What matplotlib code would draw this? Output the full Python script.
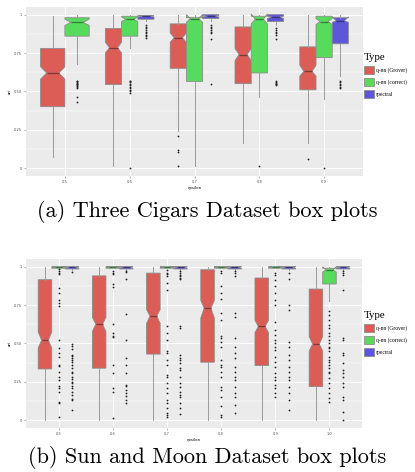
import matplotlib
matplotlib.use("Agg")
import matplotlib.pyplot as plt
from matplotlib.patches import Patch

# series names and colours
TYPES = ["q-nn (Grover)", "q-nn (correct)", "spectral"]
COLORS = ["#DB5D56", "#56DB5C", "#5D56DB"]
MED_COLORS = ["#7a3a36", "#357a39", "#3a367a"]

# ---- (a) Three Cigars
A_TICKS = ["0.5", "0.6", "0.7", "0.8", "0.9"]

a_red_q1 = [0.40, 0.545, 0.65, 0.55, 0.51]
a_red_med = [0.62, 0.785, 0.85, 0.74, 0.63]
a_red_q3 = [0.78, 0.91, 0.94, 0.92, 0.79]
a_red_cilo = [0.58, 0.75, 0.82, 0.70, 0.60]
a_red_cihi = [0.66, 0.82, 0.88, 0.78, 0.67]
a_red_lo = [0.07, 0.01, 0.24, 0.16, 0.16]
a_red_hi = [0.99, 1.0, 1.0, 1.0, 1.0]
a_red_fl = [[], [], [0.21, 0.115, 0.105, 0.01], [], [0.06]]

a_grn_q1 = [0.86, 0.86, 0.565, 0.62, 0.72]
a_grn_med = [0.95, 0.97, 0.975, 0.97, 0.955]
a_grn_q3 = [0.98, 0.99, 0.98, 0.99, 0.99]
a_grn_cilo = [0.93, 0.955, 0.95, 0.94, 0.935]
a_grn_cihi = [0.97, 0.985, 1.0, 1.005, 0.975]
a_grn_lo = [0.68, 0.78, 0.01, 0.46, 0.45]
a_grn_hi = [1.0, 1.0, 1.0, 1.0, 1.0]
a_grn_fl = [[0.57, 0.565, 0.56, 0.555, 0.55, 0.545, 0.54, 0.535, 0.53, 0.52, 0.46, 0.43],
            [0.57, 0.565, 0.56, 0.55, 0.54, 0.53, 0.52, 0.51, 0.50, 0.49, 0.0],
            [], [0.01], [0.0]]

# spectral has no box at 0.5
a_blu_idx = [1, 2, 3, 4]
a_blu_q1 = [0.97, 0.975, 0.955, 0.81]
a_blu_med = [0.99, 0.99, 0.985, 0.96]
a_blu_q3 = [0.995, 1.0, 1.0, 0.98]
a_blu_cilo = [0.985, 0.985, 0.975, 0.95]
a_blu_cihi = [0.995, 0.995, 0.99, 0.985]
a_blu_lo = [0.96, 0.96, 0.93, 0.60]
a_blu_hi = [1.0, 1.0, 1.0, 1.0]
a_blu_fl = [[0.93, 0.92, 0.91, 0.90, 0.89, 0.88, 0.87, 0.86, 0.85],
            [0.93, 0.92, 0.91, 0.90, 0.89, 0.88, 0.84, 0.55],
            [0.91, 0.90, 0.89, 0.88, 0.87, 0.84, 0.57, 0.56, 0.555, 0.55, 0.545, 0.54],
            [0.57, 0.56, 0.55, 0.54, 0.53, 0.52]]

# ---- (b) Sun and Moon
B_TICKS = ["0.5", "0.6", "0.7", "0.8", "0.9", "1.0"]

b_red_q1 = [0.333, 0.338, 0.43, 0.377, 0.355, 0.218]
b_red_med = [0.52, 0.625, 0.678, 0.73, 0.61, 0.495]
b_red_q3 = [0.915, 0.94, 0.958, 0.98, 0.926, 0.854]
b_red_cilo = [0.47, 0.577, 0.63, 0.665, 0.57, 0.45]
b_red_cihi = [0.575, 0.67, 0.72, 0.78, 0.65, 0.545]
b_red_lo = [0.0, 0.0, 0.0, 0.0, 0.0, 0.0]
b_red_hi = [1.0, 1.0, 1.0, 1.0, 1.0, 1.0]

b_grn_q1 = [0.99, 0.99, 0.99, 0.99, 0.99, 0.887]
b_grn_med = [0.997, 0.997, 0.997, 0.997, 0.997, 0.98]
b_grn_q3 = [1.0, 1.0, 1.0, 1.0, 1.0, 0.99]
b_grn_cilo = [0.995, 0.995, 0.995, 0.995, 0.995, 0.965]
b_grn_cihi = [1.0, 1.0, 1.0, 1.0, 1.0, 0.998]
b_grn_lo = [0.99, 0.99, 0.99, 0.99, 0.99, 0.778]
b_grn_hi = [1.0, 1.0, 1.0, 1.0, 1.0, 1.0]
b_grn_fl = [
    [0.985, 0.97, 0.96, 0.95, 0.86, 0.83, 0.78, 0.76, 0.745, 0.52, 0.47, 0.44, 0.41, 0.36,
     0.35, 0.31, 0.28, 0.26, 0.225, 0.21, 0.185, 0.12, 0.11, 0.02],
    [0.975, 0.96, 0.95, 0.89, 0.87, 0.625, 0.57, 0.545, 0.54, 0.36, 0.305, 0.21, 0.18, 0.015],
    [0.98, 0.96, 0.952, 0.941, 0.893, 0.85, 0.61, 0.566, 0.523, 0.447, 0.436, 0.392, 0.36,
     0.294, 0.283, 0.24, 0.207, 0.174, 0.131, 0.109, 0.076, 0.044, 0.033, 0.022],
    [0.97, 0.96, 0.872, 0.828, 0.789, 0.697, 0.654, 0.545, 0.534, 0.512, 0.479, 0.392, 0.36,
     0.349, 0.316, 0.283, 0.218, 0.196, 0.153, 0.094, 0.033, 0.022],
    [0.96, 0.948, 0.915, 0.872, 0.828, 0.784, 0.752, 0.636, 0.588, 0.556, 0.523, 0.501, 0.479,
     0.458, 0.414, 0.381, 0.349, 0.305, 0.283, 0.262, 0.229, 0.207, 0.174, 0.153],
    [0.708, 0.686, 0.654, 0.621, 0.599, 0.566, 0.545, 0.523, 0.501, 0.479, 0.468, 0.447, 0.414,
     0.392, 0.381, 0.36, 0.338, 0.316, 0.305, 0.272, 0.24, 0.207, 0.174, 0.142, 0.12],
]

b_blu_q1 = [0.985, 0.985, 0.985, 0.985, 0.985, 0.985]
b_blu_med = [0.995, 0.995, 0.995, 0.995, 0.995, 0.995]
b_blu_q3 = [1.0, 1.0, 1.0, 1.0, 1.0, 1.0]
b_blu_cilo = [0.99, 0.99, 0.99, 0.99, 0.99, 0.99]
b_blu_cihi = [1.0, 1.0, 1.0, 1.0, 1.0, 1.0]
b_blu_lo = [0.98, 0.98, 0.98, 0.98, 0.98, 0.98]
b_blu_hi = [1.0, 1.0, 1.0, 1.0, 1.0, 1.0]
b_blu_fl = [
    [0.965, 0.495, 0.48, 0.46, 0.425, 0.415, 0.405, 0.39, 0.38, 0.36, 0.34, 0.315, 0.305,
     0.28, 0.265, 0.25, 0.24, 0.225, 0.21, 0.185, 0.165, 0.14, 0.13, 0.065],
    [0.975, 0.965, 0.92, 0.69, 0.52, 0.405, 0.36, 0.305, 0.23, 0.22, 0.195, 0.175, 0.155,
     0.13, 0.11],
    [0.97, 0.96, 0.948, 0.937, 0.926, 0.92, 0.61, 0.6, 0.425, 0.403, 0.392, 0.37, 0.338,
     0.327, 0.283, 0.24, 0.218, 0.185, 0.163, 0.153, 0.109, 0.076, 0.04],
    [0.97, 0.96, 0.937, 0.697, 0.675, 0.534, 0.479, 0.436, 0.403, 0.349, 0.316, 0.283, 0.262,
     0.218, 0.174, 0.153, 0.098, 0.044],
    [0.96, 0.92, 0.752, 0.719, 0.512, 0.479, 0.425, 0.392, 0.349, 0.316, 0.283, 0.262, 0.218,
     0.174, 0.131, 0.065],
    [0.97, 0.96, 0.948, 0.85, 0.534, 0.523, 0.436, 0.425, 0.37, 0.327, 0.305, 0.283, 0.24,
     0.218, 0.153, 0.131, 0.054, 0.0],
]


def make_stats(q1, med, q3, cilo, cihi, lo, hi, fl=None):
    out = []
    for i in range(len(q1)):
        out.append(dict(q1=q1[i], med=med[i], q3=q3[i], cilo=cilo[i], cihi=cihi[i],
                        whislo=lo[i], whishi=hi[i], fliers=fl[i] if fl else []))
    return out


def draw_series(ax, stats, pos, width, k):
    ax.bxp(stats, positions=pos, widths=width, shownotches=True, showcaps=False,
           patch_artist=True, manage_ticks=False,
           boxprops=dict(facecolor=COLORS[k], edgecolor="#8c8c8c", linewidth=0.6),
           whiskerprops=dict(color="#9a9a9a", linewidth=0.7),
           medianprops=dict(color=MED_COLORS[k], linewidth=0.9),
           flierprops=dict(marker="o", markersize=1.3, markerfacecolor="#222222",
                           markeredgewidth=0, linestyle="none"))


def style_axes(ax, ticks):
    n = len(ticks)
    ax.set_facecolor("#EBEBEB")
    ax.set_xlim(0.4, n + 0.6)
    ax.set_ylim(-0.052, 1.05)
    ax.set_yticks([0, 0.25, 0.5, 0.75, 1])
    ax.set_yticklabels(["0", "0.25", "0.50", "0.75", "1"])
    ax.set_yticks([0.125, 0.375, 0.625, 0.875], minor=True)
    ax.set_xticks(range(1, n + 1))
    ax.set_xticklabels(ticks)
    ax.grid(which="major", color="white", linewidth=0.7)
    ax.grid(which="minor", axis="y", color="white", linewidth=0.35)
    ax.set_axisbelow(True)
    for s in ax.spines.values():
        s.set_visible(False)
    ax.tick_params(which="major", length=1.5, width=0.4, color="#7f7f7f",
                   labelsize=2.6, labelcolor="#555555", pad=1.5)
    ax.tick_params(which="minor", length=0)
    ax.set_xlabel("epsilon", fontsize=2.8, labelpad=1.5)
    ax.set_ylabel("ari", fontsize=2.8, labelpad=1.5)


def add_legend(fig, top_px):
    handles = [Patch(facecolor=c, edgecolor="#8c8c8c", linewidth=0.6) for c in COLORS]
    leg = fig.legend(handles, TYPES, loc="upper left",
                     bbox_to_anchor=(362 / 415, 1 - top_px / 472), frameon=False,
                     title="Type", handlelength=1.9, handleheight=1.8, handletextpad=0.3,
                     labelspacing=0.75, borderaxespad=0, borderpad=0.3,
                     prop={"family": "Liberation Serif", "size": 4.0},
                     title_fontproperties={"family": "Liberation Serif", "size": 7.8})
    leg._legend_box.align = "left"


fig = plt.figure(figsize=(4.15, 4.72), dpi=100)

# panel a
ax1 = fig.add_axes([26 / 415, 1 - 176 / 472, 337 / 415, 169 / 472])
na = len(A_TICKS)
draw_series(ax1, make_stats(a_red_q1, a_red_med, a_red_q3, a_red_cilo, a_red_cihi, a_red_lo,
                            a_red_hi, a_red_fl),
            [1 - 0.1875] + [g - 0.25 for g in range(2, na + 1)], [0.375] + [0.25] * (na - 1), 0)
draw_series(ax1, make_stats(a_grn_q1, a_grn_med, a_grn_q3, a_grn_cilo, a_grn_cihi, a_grn_lo,
                            a_grn_hi, a_grn_fl),
            [1 + 0.1875] + [g for g in range(2, na + 1)], [0.375] + [0.25] * (na - 1), 1)
draw_series(ax1, make_stats(a_blu_q1, a_blu_med, a_blu_q3, a_blu_cilo, a_blu_cihi, a_blu_lo,
                            a_blu_hi, a_blu_fl),
            [i + 1 + 0.25 for i in a_blu_idx], [0.25] * len(a_blu_idx), 2)
style_axes(ax1, A_TICKS)

# panel b
ax2 = fig.add_axes([26 / 415, 1 - 428 / 472, 336 / 415, 169 / 472])
nb = len(B_TICKS)
draw_series(ax2, make_stats(b_red_q1, b_red_med, b_red_q3, b_red_cilo, b_red_cihi, b_red_lo,
                            b_red_hi),
            [g - 0.25 for g in range(1, nb + 1)], [0.25] * nb, 0)
draw_series(ax2, make_stats(b_grn_q1, b_grn_med, b_grn_q3, b_grn_cilo, b_grn_cihi, b_grn_lo,
                            b_grn_hi, b_grn_fl),
            [g for g in range(1, nb + 1)], [0.25] * nb, 1)
draw_series(ax2, make_stats(b_blu_q1, b_blu_med, b_blu_q3, b_blu_cilo, b_blu_cihi, b_blu_lo,
                            b_blu_hi, b_blu_fl),
            [g + 0.25 for g in range(1, nb + 1)], [0.25] * nb, 2)
style_axes(ax2, B_TICKS)

add_legend(fig, 51)
add_legend(fig, 309)

fig.text(0.5, 1 - 217 / 472, "(a) Three Cigars Dataset box plots", ha="center",
         va="baseline", family="cmr10", fontsize=16)
fig.text(0.5, 1 - 463 / 472, "(b) Sun and Moon Dataset box plots", ha="center",
         va="baseline", family="cmr10", fontsize=16)

fig.savefig("out.png", dpi=100)
